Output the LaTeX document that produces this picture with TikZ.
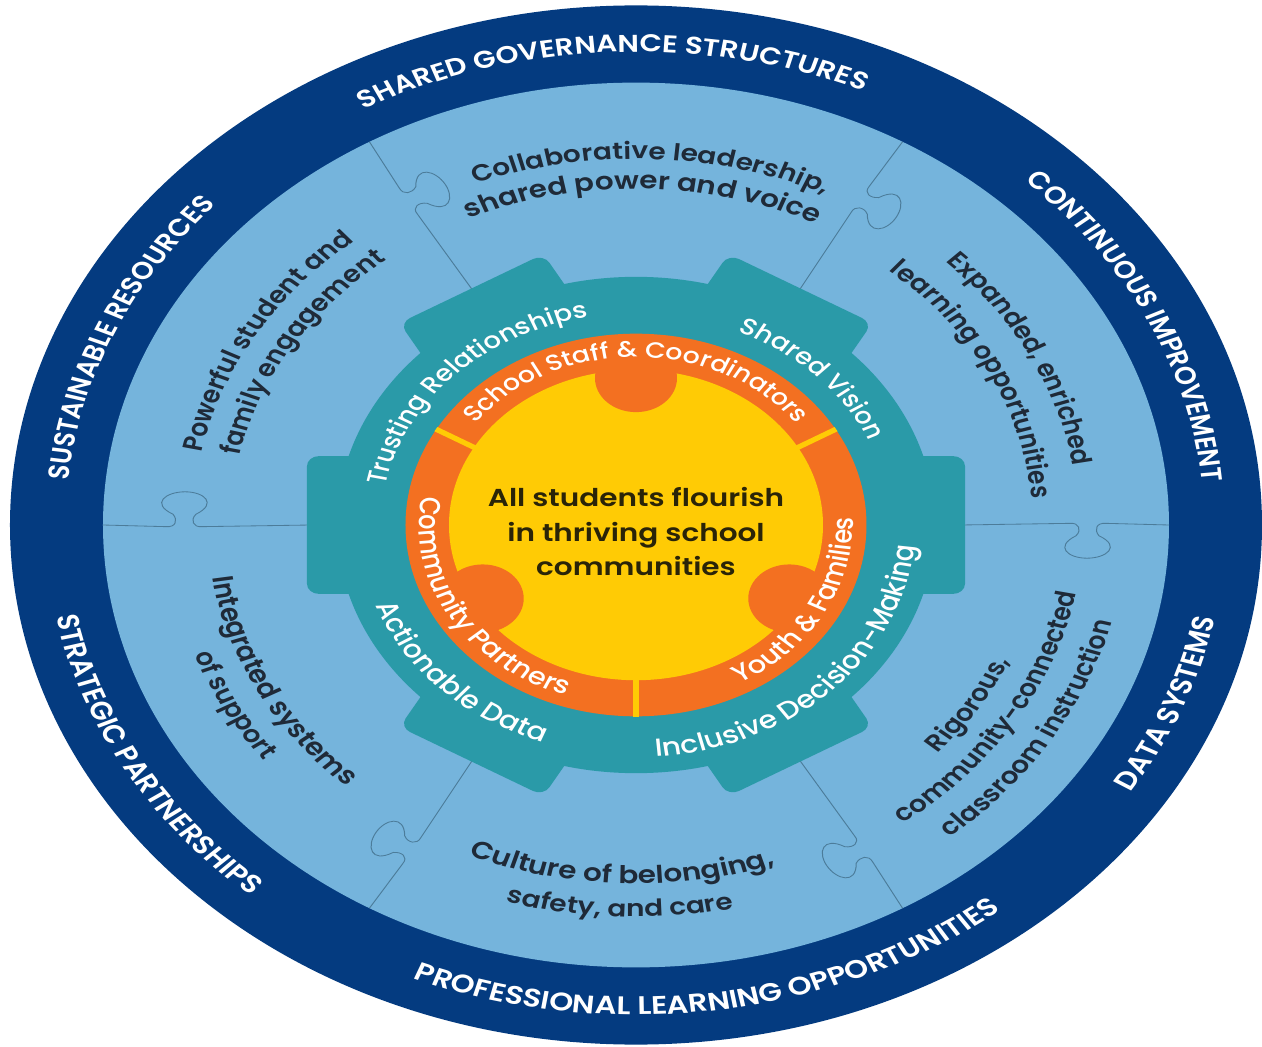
\documentclass[tikz,border=0pt]{standalone}
\usepackage{fontspec}
\setmainfont{Poppins}
\newfontfamily\popsemi{Poppins SemiBold}
\newfontfamily\popmed{Poppins Medium}
\usetikzlibrary{decorations.text}
\definecolor{navy}{HTML}{043B80}
\definecolor{sky}{HTML}{75B4DC}
\definecolor{gearteal}{HTML}{2A9AA8}
\definecolor{ringorange}{HTML}{F37021}
\definecolor{sunyellow}{HTML}{FFCB05}
\definecolor{seam}{HTML}{4C7C9A}
\definecolor{inkdark}{HTML}{1F2A38}
\definecolor{inkcentre}{HTML}{2A2408}
\newcommand\bandfont{\popsemi\fontsize{29.3}{32}\selectfont\color{white}}
\newcommand\bandwide{\popsemi\fontsize{30.6}{32}\selectfont\color{white}}
\newcommand\sectorfont{\popsemi\fontsize{28}{32}\selectfont\color{inkdark}}
\newcommand\sectorwide{\popsemi\fontsize{29.4}{32}\selectfont\color{inkdark}}
\newcommand\gearfont{\popmed\fontsize{27.5}{30}\selectfont\color{white}}
\newcommand\gearwide{\popmed\fontsize{29.8}{30}\selectfont\color{white}}
\newcommand\orangefont{\popmed\fontsize{26.8}{30}\selectfont\color{white}}
\newcommand\orangewide{\popmed\fontsize{29}{30}\selectfont\color{white}}
% clockwise text: letters stand outward; the baseline lies on the circle
\newcommand\cwtext[4]{%
  \pgfmathsetmacro\angA{#2+85}\pgfmathsetmacro\angB{#2-85}%
  \path[decorate,decoration={text along path,text align=center,text={|#3|#4}}]
    (\angA:#1) arc[start angle=\angA,end angle=\angB,radius=#1];}
% counter-clockwise text: letters stand inward
\newcommand\ccwtext[4]{%
  \pgfmathsetmacro\angA{#2-85}\pgfmathsetmacro\angB{#2+85}%
  \path[decorate,decoration={text along path,text align=center,text={|#3|#4}}]
    (\angA:#1) arc[start angle=\angA,end angle=\angB,radius=#1];}
\tikzset{
  seamline/.style={draw=seam,line width=1pt},
  divider/.style={draw=sunyellow,line width=6pt},
  centretext/.style={align=center,font=\popsemi\fontsize{29.5}{42}\selectfont,text=inkcentre,inner sep=0pt},
}
\begin{document}
\begin{tikzpicture}[x=1pt,y=1pt]
\useasboundingbox[fill=white] (-636,-522) rectangle (626,525);
\begin{scope}[transform canvas={yscale=0.83}]
  \fill[navy] (0,0) circle[radius=626];
  \fill[sky] (0,0) circle[radius=533];
  % seams between the puzzle pieces
  \foreach \a in {0,60,120,180,240,300}{
    \begin{scope}[rotate=\a]
      \draw[seamline] (325,0) -- (434,2) .. controls (443,3) and (446,-6) .. (440,-13)
        .. controls (418,-26) and (432,-40) .. (451,-40)
        .. controls (470,-40) and (486,-26) .. (463,-13)
        .. controls (458,-6) and (460,3) .. (470,2) -- (533,0);
    \end{scope}
  }
  % gear
  \fill[gearteal] (0,0) circle[radius=299];
  \foreach \a in {0,60,120,180,240,300}{
    \fill[gearteal,rounded corners=12pt,rotate=\a] (240,-83) rectangle (329,83);
  }
  % orange ring and yellow disc
  \fill[ringorange] (0,0) circle[radius=230.5];
  \fill[sunyellow] (0,0) circle[radius=187];
  \foreach \a in {90,210,330}{
    \fill[ringorange] (\a:177) circle[radius=41];
  }
  \foreach \a in {30,150,270}{
    \draw[divider] (\a:186) -- (\a:231);
  }
  % outer band
  \cwtext{570}{92.5}{\bandfont}{SHARED GOVERNANCE STRUCTURES}
  \cwtext{568}{26}{\bandfont}{CONTINUOUS IMPROVEMENT}
  \ccwtext{590}{-22}{\bandwide}{DATA SYSTEMS}
  \ccwtext{590}{-82}{\bandwide}{PROFESSIONAL LEARNING OPPORTUNITIES}
  \ccwtext{590}{210}{\bandwide}{STRATEGIC PARTNERSHIPS}
  \cwtext{570}{156}{\bandfont}{SUSTAINABLE RESOURCES}
  % puzzle pieces
  \cwtext{441}{88}{\sectorfont}{Collaborative leadership,}
  \cwtext{405}{89}{\sectorwide}{shared power and voice}
  \cwtext{443}{27.5}{\sectorfont}{Expanded, enriched}
  \cwtext{397}{27.5}{\sectorfont}{learning opportunities}
  \ccwtext{408}{-33}{\sectorfont}{Rigorous,}
  \ccwtext{448}{-32}{\sectorfont}{community-connected}
  \ccwtext{490}{-32}{\sectorfont}{classroom instruction}
  \ccwtext{432}{268}{\sectorwide}{Culture of belonging,}
  \ccwtext{472}{268}{\sectorfont}{safety, and care}
  \ccwtext{428}{208}{\sectorwide}{Integrated systems}
  \ccwtext{468}{208.4}{\sectorfont}{of support}
  \cwtext{443}{149}{\sectorfont}{Powerful student and}
  \cwtext{405}{148}{\sectorfont}{family engagement}
  % gear labels
  \cwtext{255}{135}{\gearfont}{Trusting Relationships}
  \cwtext{254}{45}{\gearfont}{Shared Vision}
  \ccwtext{280}{-45.6}{\gearwide}{Inclusive Decision-Making}
  \ccwtext{278}{225.5}{\gearwide}{Actionable Data}
  % orange ring labels
  \cwtext{202}{90}{\orangefont}{School Staff {\&} Coordinators}
  \ccwtext{217}{211}{\orangewide}{Community Partners}
  \ccwtext{217}{-29.6}{\orangewide}{Youth {\&} Families}
  % centre
  \node[centretext] (centre) at (0,-8) {All students flourish\\in thriving school\\communities};
\end{scope}
\end{tikzpicture}
\end{document}
